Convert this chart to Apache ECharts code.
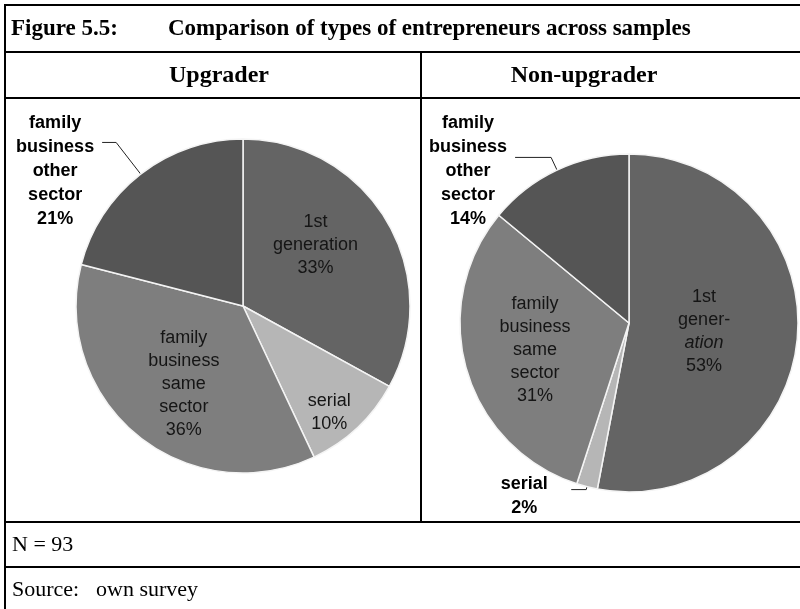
<!DOCTYPE html>
<html>
<head>
<meta charset="utf-8">
<script src="https://cdn.jsdelivr.net/npm/echarts@6/dist/echarts.min.js"></script>
<style>
  html, body { margin: 0; padding: 0; background: #fff; }
  #chart { width: 800px; height: 609px; }
</style>
</head>
<body>
<div id="chart"></div>
<script>
// data
const categories = ['1st generation', 'serial', 'family business same sector', 'family business other sector']
const upgraderShare = [33, 10, 36, 21]
const nonUpgraderShare = [53, 2, 31, 14]
const upgraderLabels = ['1st\ngeneration', 'serial', 'family\nbusiness\nsame\nsector', 'family\nbusiness\nother\nsector']
const nonUpgraderLabels = ['1st\ngener-\n{i|ation}', 'serial', 'family\nbusiness\nsame\nsector', 'family\nbusiness\nother\nsector']
const sliceColors = ['#646464', '#b6b6b6', '#7e7e7e', '#555555']

const chart = echarts.init(document.getElementById('chart'))

// small nudges so inside labels sit where the original has them
const upShift = [[-2, -17], [27, 43], [-4, 11], null]
const nonShift = [[-12, 0], null, [-10, 3], null]
// outside labels: leader line lengths and top padding (line hooks onto 2nd text row)
const upOutside = { 3: { length: 40, length2: 14, pad: 58 } }
const nonOutside = { 1: { length: 3, length2: 15, pad: 12 }, 3: { length: 14, length2: 36, pad: 28 } }

function makeFormatter (labels, outside) {
  return p => {
    const lines = (labels[p.dataIndex] + '\n' + p.value + '%').split('\n')
    if (outside[p.dataIndex]) {
      return lines.map(l => '{o|' + l + '}').join('\n')
    }
    return lines.join('\n')
  }
}

function makeData (values, outside) {
  return categories.map((name, i) => {
    const o = outside[i]
    return {
      name,
      value: values[i],
      itemStyle: { color: sliceColors[i] },
      label: o ? { position: 'outside', padding: [o.pad, 0, 0, 0] } : { position: 'inside' },
      labelLine: o
        ? { show: true, length: o.length, length2: o.length2 }
        : { show: false }
    }
  })
}

const labelBase = {
  fontFamily: 'Liberation Sans, Arial, sans-serif',
  fontSize: 18,
  lineHeight: 23,
  color: '#151515',
  rich: {
    i: { fontStyle: 'italic', fontSize: 18, lineHeight: 23, color: '#151515' },
    o: { fontWeight: 'bold', fontSize: 18, lineHeight: 24, color: '#000', width: 84, align: 'center' }
  }
}

function pieSeries (center, radius, values, labels, outside, shift) {
  return {
    type: 'pie',
    center,
    radius,
    startAngle: 90,
    clockwise: true,
    silent: true,
    avoidLabelOverlap: false,
    itemStyle: { borderColor: '#f4f4f4', borderWidth: 1.5 },
    label: Object.assign({ formatter: makeFormatter(labels, outside) }, labelBase),
    labelLine: { smooth: false, lineStyle: { color: '#222', width: 1 } },
    labelLayout: p => {
      const s = shift[p.dataIndex]
      return s ? { dx: s[0], dy: s[1] } : {}
    },
    data: makeData(values, outside)
  }
}

const serif = 'Liberation Serif, Times New Roman, serif'
const line = (x1, y1, x2, y2) => ({
  type: 'line',
  shape: { x1, y1, x2, y2 },
  style: { stroke: '#000', lineWidth: 2 }
})
const txt = (x, y, text, size, bold, align) => ({
  type: 'text',
  x, y,
  style: {
    text, fontFamily: serif, fontSize: size, fontWeight: bold ? 'bold' : 'normal',
    fill: '#000', align: align || 'left', verticalAlign: 'middle'
  }
})

const option = {
  backgroundColor: '#fff',
  animation: false,
  graphic: [
    line(4, 5, 800, 5),
    line(4, 52, 800, 52),
    line(4, 98, 800, 98),
    line(4, 522, 800, 522),
    line(4, 567, 800, 567),
    line(5, 4, 5, 609),
    line(421, 52, 421, 522),
    txt(11, 29, 'Figure 5.5:', 23, true),
    txt(168, 29, 'Comparison of types of entrepreneurs across samples', 23, true),
    txt(219, 76, 'Upgrader', 24, true, 'center'),
    txt(584, 76, 'Non-upgrader', 24, true, 'center'),
    txt(12, 545, 'N = 93', 22, false),
    txt(12, 590, 'Source:', 22, false),
    txt(96, 590, 'own survey', 22, false)
  ],
  series: [
    pieSeries([243, 306], 167, upgraderShare, upgraderLabels, upOutside, upShift),
    pieSeries([629, 323], 169, nonUpgraderShare, nonUpgraderLabels, nonOutside, nonShift)
  ]
}

option && chart.setOption(option)
</script>
</body>
</html>
